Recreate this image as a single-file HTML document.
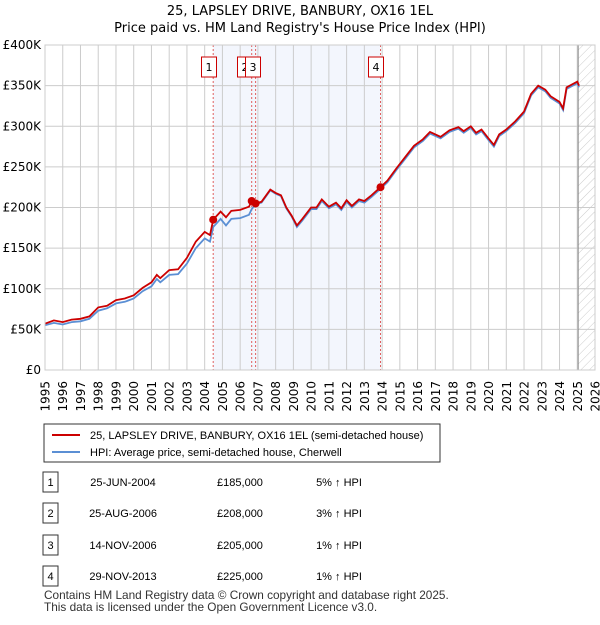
<!DOCTYPE html>
<html><head><meta charset="utf-8"><style>
body{margin:0;background:#fff;font-family:"Liberation Sans","DejaVu Sans",sans-serif;}
</style></head><body>
<svg width="600" height="620" xmlns="http://www.w3.org/2000/svg" font-family="Liberation Sans, DejaVu Sans, sans-serif">
<defs><pattern id="hatch" width="6" height="6" patternUnits="userSpaceOnUse" patternTransform="rotate(45)"><line x1="0" y1="0" x2="0" y2="6" stroke="#ccc" stroke-width="1"/></pattern></defs>
<text x="300" y="15" text-anchor="middle" font-size="13" font-family="DejaVu Sans, sans-serif">25, LAPSLEY DRIVE, BANBURY, OX16 1EL</text>
<text x="300" y="32" text-anchor="middle" font-size="13" font-family="DejaVu Sans, sans-serif">Price paid vs. HM Land Registry's House Price Index (HPI)</text>
<g id="plot" font-family="DejaVu Sans, sans-serif"></g>
<g>
<rect x="44" y="424" width="396" height="38" fill="#fff" stroke="#333"/>
<line x1="52" y1="435" x2="80" y2="435" stroke="#cc0000" stroke-width="2"/>
<text x="90" y="439" font-size="11">25, LAPSLEY DRIVE, BANBURY, OX16 1EL (semi-detached house)</text>
<line x1="52" y1="452" x2="80" y2="452" stroke="#5b8fd4" stroke-width="2"/>
<text x="90" y="456" font-size="11">HPI: Average price, semi-detached house, Cherwell</text>
</g>
<g id="table" font-size="11"></g>
<text x="44" y="599" font-size="11.8" fill="#333">Contains HM Land Registry data © Crown copyright and database right 2025.</text>
<text x="44" y="611" font-size="11.8" fill="#333">This data is licensed under the Open Government Licence v3.0.</text>
</svg>
<script>
const years=[1995,1996,1997,1998,1999,2000,2001,2002,2003,2004,2005,2006,2007,2008,2009,2010,2011,2012,2013,2014,2015,2016,2017,2018,2019,2020,2021,2022,2023,2024,2025,2026];
const yTicks=[0,50000,100000,150000,200000,250000,300000,350000,400000];
const yTickLabels=["£0","£50K","£100K","£150K","£200K","£250K","£300K","£350K","£400K"];
const priceT=[1995.0,1995.5,1996.0,1996.5,1997.0,1997.5,1998.0,1998.5,1999.0,1999.5,2000.0,2000.5,2001.0,2001.3,2001.5,2002.0,2002.5,2003.0,2003.5,2004.0,2004.3,2004.48,2004.9,2005.2,2005.5,2006.0,2006.5,2006.65,2006.87,2007.2,2007.7,2008.0,2008.3,2008.6,2008.9,2009.2,2009.5,2010.0,2010.3,2010.6,2011.0,2011.4,2011.7,2012.0,2012.3,2012.7,2013.0,2013.4,2013.91,2014.3,2014.8,2015.3,2015.8,2016.3,2016.7,2017.3,2017.8,2018.3,2018.6,2019.0,2019.3,2019.6,2020.0,2020.3,2020.6,2021.0,2021.5,2022.0,2022.4,2022.8,2023.2,2023.5,2024.0,2024.2,2024.4,2025.0,2025.1];
const priceV=[57,61,59,62,63,66,77,79,86,88,92,101,108,117,113,123,124,138,158,170,166,185,195,188,196,197,201,208,205,207,222,218,215,200,190,178,186,200,200,210,201,206,199,209,202,210,208,215,225,233,248,262,276,284,293,287,295,299,294,300,292,296,285,277,290,296,306,318,340,350,345,337,330,322,348,355,350];
const hpiV=[55,58,56,59,60,63,73,76,82,84,88,97,103,112,108,117,118,131,150,162,158,176,186,178,186,187,191,198,204,206,221,217,214,199,189,176,184,198,198,208,199,204,197,207,200,208,206,213,223,231,246,260,274,282,291,285,293,297,292,298,290,294,283,275,288,294,304,316,338,348,343,335,328,320,346,353,348];
const saleT=[2004.48,2006.65,2006.87,2013.91];
const saleV=[185000,208000,205000,225000];
const saleDates=["25-JUN-2004","25-AUG-2006","14-NOV-2006","29-NOV-2013"];
const salePrices=["£185,000","£208,000","£205,000","£225,000"];
const saleHpi=["5% ↑ HPI","3% ↑ HPI","1% ↑ HPI","1% ↑ HPI"];
const X0=45,X1=595,Y0=370,Y1=45;
const xs=t=>X0+(t-1995)/31*(X1-X0);
const ys=v=>Y0-v/400000*(Y0-Y1);
const NS="http://www.w3.org/2000/svg";
const plot=document.getElementById('plot');
function mk(tag,attrs,parent){const e=document.createElementNS(NS,tag);for(const k in attrs)e.setAttribute(k,attrs[k]);(parent||plot).appendChild(e);return e;}
let e=mk('rect',{x:X0,y:Y1,width:X1-X0,height:Y0-Y1,fill:'#fff'});


e=mk('rect',{x:xs(saleT[0]),y:Y1,width:xs(saleT[3])-xs(saleT[0]),height:Y0-Y1,fill:'#eef2fc',opacity:0.7});


const hs=2025.05;
e=mk('rect',{x:xs(hs),y:Y1,width:X1-xs(hs),height:Y0-Y1,fill:'url(#hatch)'});


years.forEach(y=>{
 e=mk('line',{x1:xs(y),y1:Y1,x2:xs(y),y2:Y0,stroke:'#cccccc','stroke-width':1});
 
 
 const lx=xs(y)+4.5,ly=381;
 e=mk('text',{x:lx,y:ly,'text-anchor':'end','font-size':12,transform:'rotate(-90 '+lx+' '+ly+')'});
 e.textContent=y;
 
 
});
yTicks.forEach((v,i)=>{
 e=mk('line',{x1:X0,y1:ys(v),x2:X1,y2:ys(v),stroke:'#cccccc','stroke-width':1});
 
 
 e=mk('text',{x:X0-4,y:ys(v)+4,'text-anchor':'end','font-size':12});
 e.textContent=yTickLabels[i];
 
 
});
e=mk('line',{x1:xs(hs),y1:Y1,x2:xs(hs),y2:Y0,stroke:'#888','stroke-width':1});


saleT.forEach((t,i)=>{
 e=mk('line',{x1:xs(t),y1:Y1,x2:xs(t),y2:Y0,stroke:'#e06060','stroke-width':1,'stroke-dasharray':'2,2'});
 
 
});
const pts=a=>priceT.map((t,i)=>xs(t).toFixed(1)+','+ys(a[i]*1000).toFixed(1)).join(' ');
e=mk('polyline',{points:pts(hpiV),fill:'none',stroke:'#5b8fd4','stroke-width':1.8});


e=mk('polyline',{points:pts(priceV),fill:'none',stroke:'#cc0000','stroke-width':1.8});


saleT.forEach((t,i)=>{
 e=mk('circle',{cx:xs(t),cy:ys(saleV[i]),r:4,fill:'#cc0000'});
 
 
});
const boxX=[209,245,253,376];
[1,0,2,3].forEach(i=>{
 e=mk('rect',{x:boxX[i]-7.5,y:57,width:15,height:20,fill:'#fff',stroke:'#cc0000'});
 
 
 e=mk('text',{x:boxX[i],y:71,'text-anchor':'middle','font-size':11});
 e.textContent=String(i+1);
 
 
});
e=mk('rect',{x:X0,y:Y1,width:X1-X0,height:Y0-Y1,fill:'none',stroke:'#cccccc'});


const tb=document.getElementById('table');
const rowY=[482,513,545,576];
rowY.forEach((y,i)=>{
 e=mk('rect',{x:43,y:y-10,width:15,height:20,fill:'#fff',stroke:'#333'},tb);
 
 
 e=mk('text',{x:50.5,y:y+4,'text-anchor':'middle'},tb);e.textContent=String(i+1);
 
 
 e=mk('text',{x:123,y:y+4,'text-anchor':'middle'},tb);e.textContent=saleDates[i];
 
 
 e=mk('text',{x:240,y:y+4,'text-anchor':'middle'},tb);e.textContent=salePrices[i];
 
 
 e=mk('text',{x:339,y:y+4,'text-anchor':'middle'},tb);e.textContent=saleHpi[i];
 
 
});
</script>
</body></html>
